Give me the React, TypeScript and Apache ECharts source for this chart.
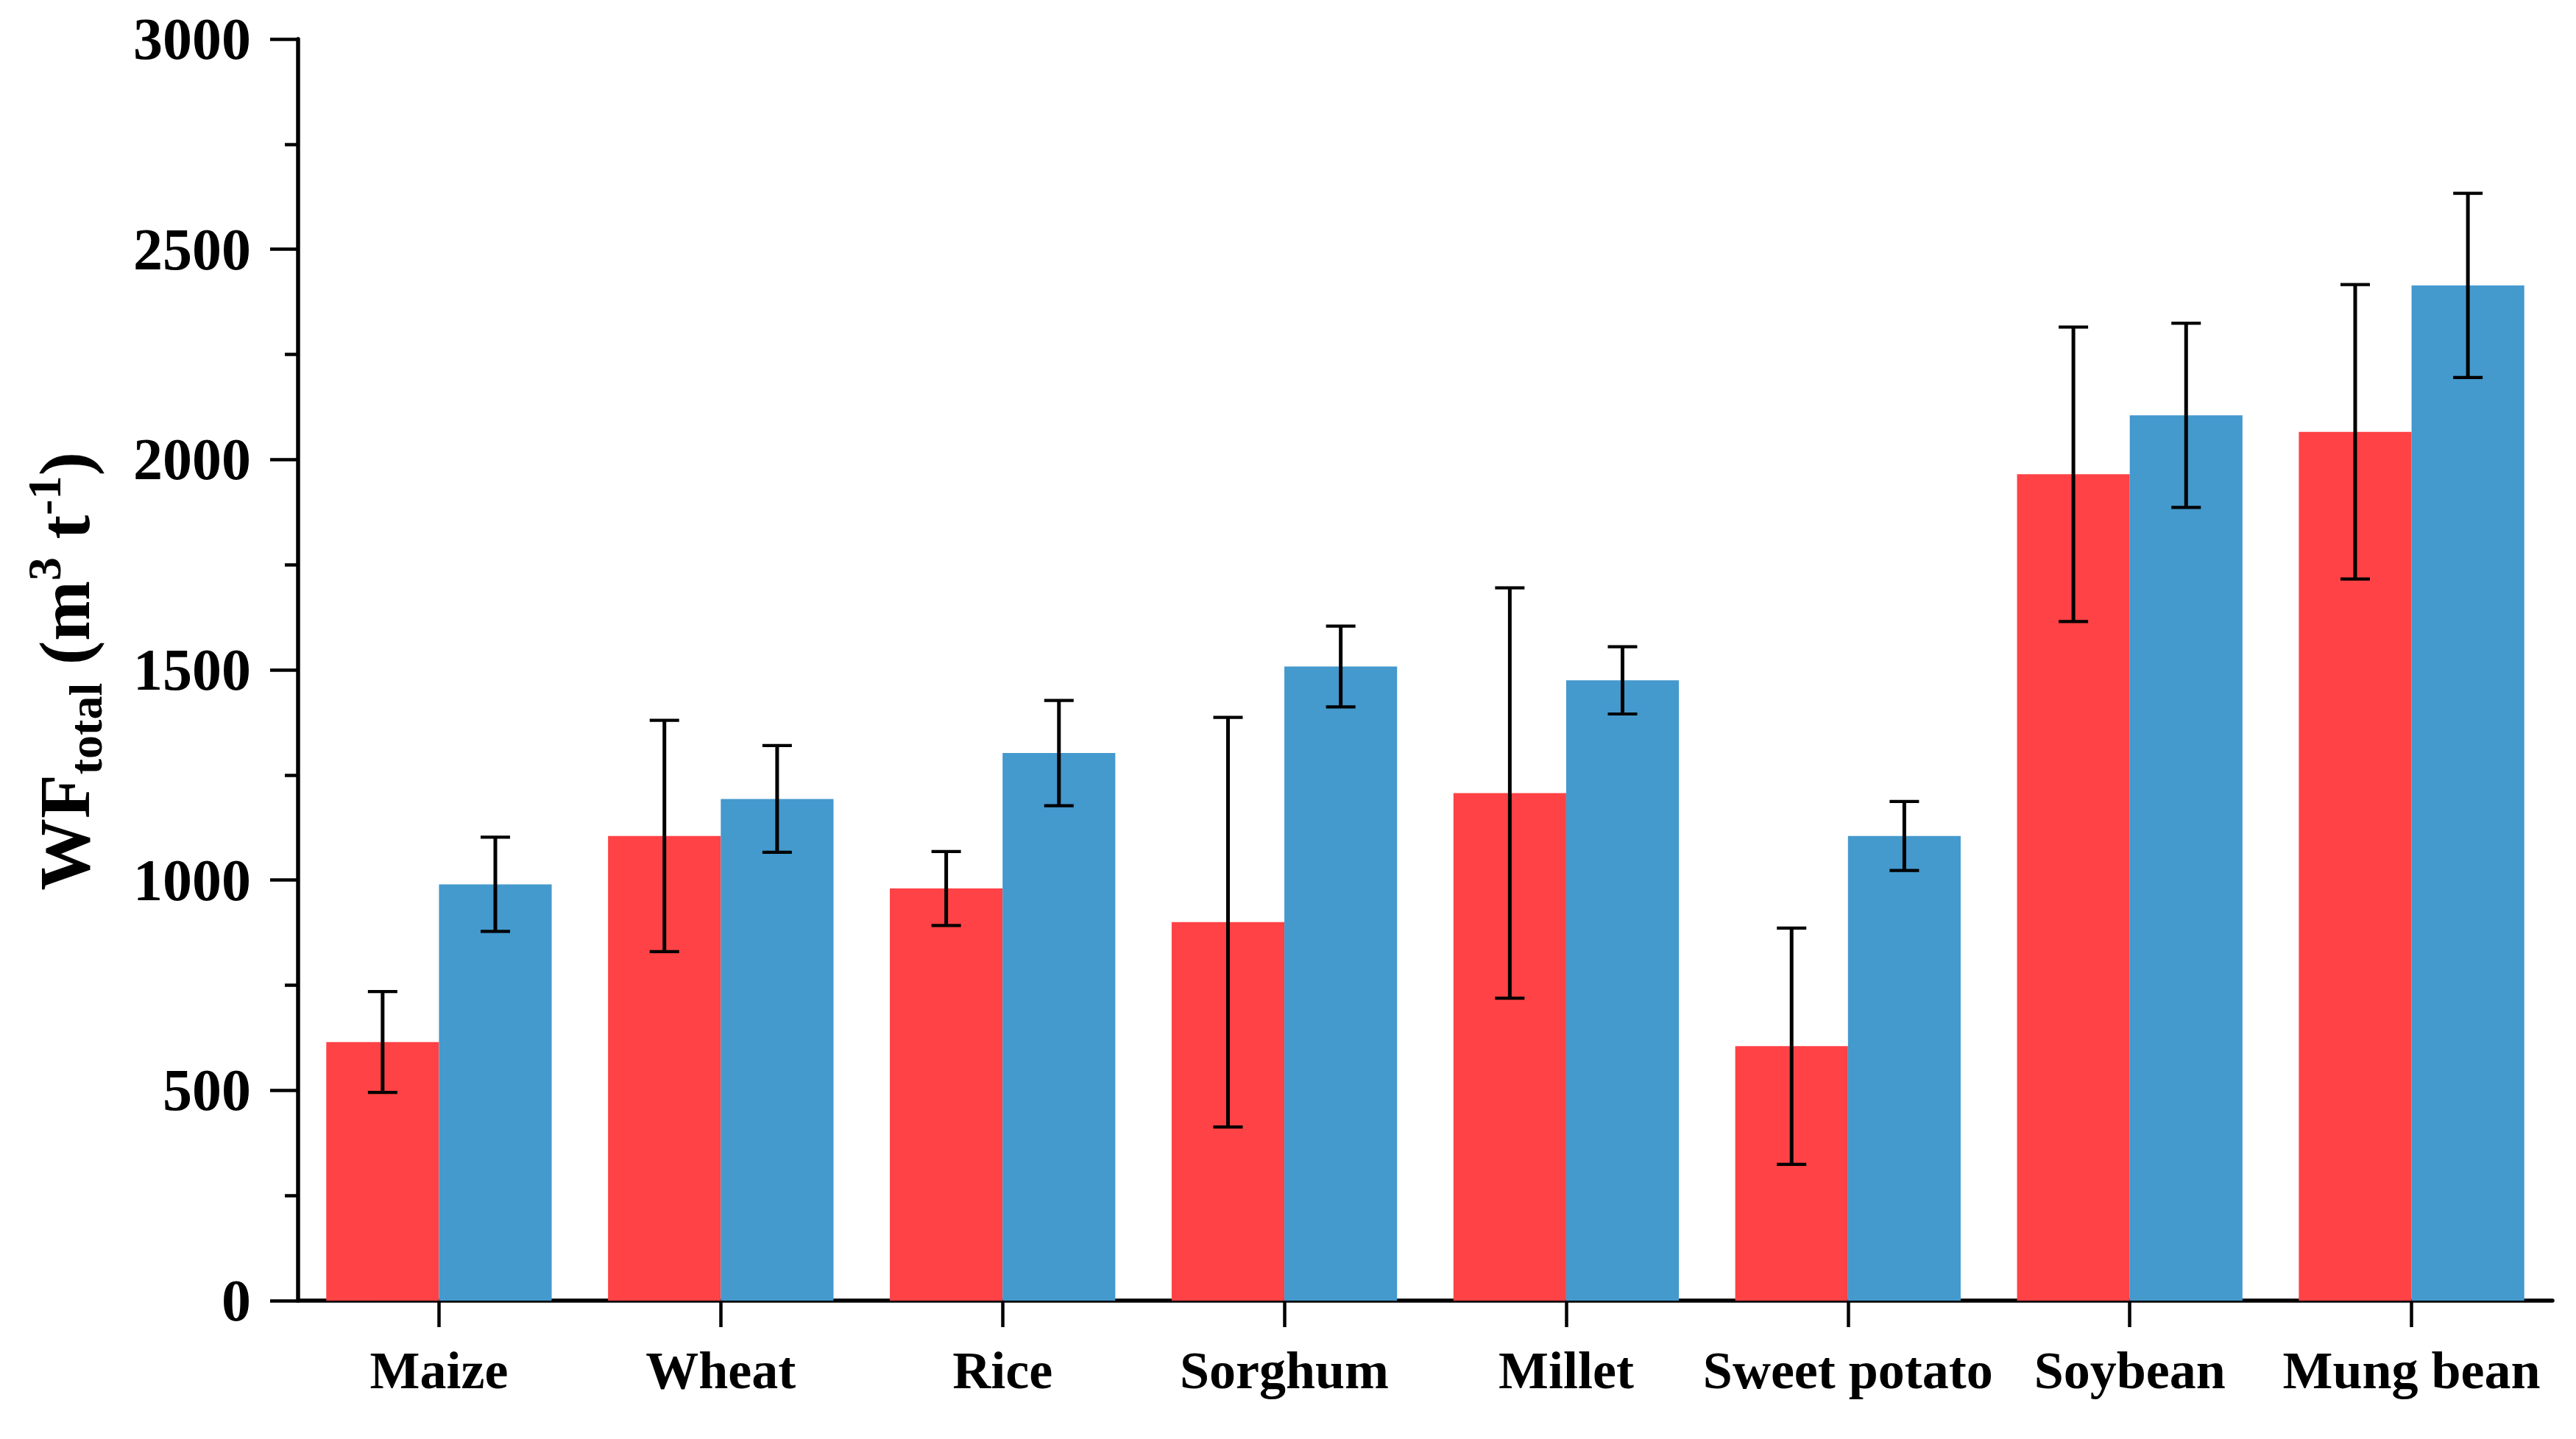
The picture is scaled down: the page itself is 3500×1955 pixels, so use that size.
import React, { useEffect, useRef } from "react";
import * as echarts from "echarts";

const categories = ["Maize", "Wheat", "Rice", "Sorghum", "Millet", "Sweet potato", "Soybean", "Mung bean"];
const redValues = [615, 1105, 980, 900, 1207, 605, 1965, 2066];
const redErrors = [120, 275, 88, 487, 488, 281, 350, 350];
const blueValues = [990, 1193, 1302, 1508, 1475, 1105, 2105, 2414];
const blueErrors = [112, 127, 125, 96, 80, 82, 219, 219];
const yTicks = { min: 0, max: 3000, interval: 500 };

const RED = "#FF4245";
const BLUE = "#4499CD";
const FONT = "'Liberation Serif', 'Times New Roman', serif";

function errorData(values: number[], errors: number[]) {
  return values.map((v, i) => [i, v - errors[i], v + errors[i]]);
}

function makeErrorSeries(values: number[], errors: number[], offset: number) {
  return {
    type: "custom",
    z: 10,
    silent: true,
    encode: { x: 0, y: [1, 2] },
    data: errorData(values, errors),
    renderItem: (params: any, api: any) => {
      const idx = api.value(0);
      const lo = api.value(1);
      const hi = api.value(2);
      const band = api.size([1, 0])[0];
      const pLo = api.coord([idx, lo]);
      const pHi = api.coord([idx, hi]);
      const x = pLo[0] + offset * band;
      const hw = 20;
      const stem = { stroke: "#000", lineWidth: 5 };
      const cap = { stroke: "#000", lineWidth: 4.2 };
      return {
        type: "group",
        children: [
          { type: "line", shape: { x1: x, y1: pHi[1], x2: x, y2: pLo[1] }, style: stem },
          { type: "line", shape: { x1: x - hw, y1: pHi[1], x2: x + hw, y2: pHi[1] }, style: cap },
          { type: "line", shape: { x1: x - hw, y1: pLo[1], x2: x + hw, y2: pLo[1] }, style: cap },
        ],
      };
    },
  };
}

export default function App() {
  const ref = useRef<HTMLDivElement>(null);
  useEffect(() => {
    if (!ref.current) return;
    const chart = echarts.init(ref.current, undefined, { renderer: "svg" });
    chart.setOption({
      animation: false,
      backgroundColor: "#fff",
      grid: { left: 405, right: 32, top: 53, bottom: 188, containLabel: false },
      xAxis: {
        type: "category",
        data: categories,
        boundaryGap: true,
        axisLine: { show: true, lineStyle: { color: "#000", width: 5.5 } },
        axisTick: { show: true, alignWithLabel: true, length: 36, lineStyle: { color: "#000", width: 4.5 } },
        axisLabel: {
          color: "#000",
          fontFamily: FONT,
          fontWeight: "bold",
          fontSize: 72,
          margin: 59,
          interval: 0,
        },
        splitLine: { show: false },
      },
      yAxis: {
        type: "value",
        min: yTicks.min,
        max: yTicks.max,
        interval: yTicks.interval,
        axisLine: { show: true, lineStyle: { color: "#000", width: 5.5 } },
        axisTick: { show: true, length: 38, lineStyle: { color: "#000", width: 4.5 } },
        minorTick: { show: true, splitNumber: 2, length: 18, lineStyle: { color: "#000", width: 4.5 } },
        axisLabel: {
          color: "#000",
          fontFamily: FONT,
          fontWeight: "bold",
          fontSize: 80,
          margin: 64,
          formatter: (v: number) => String(v),
        },
        splitLine: { show: false },
        minorSplitLine: { show: false },
      },
      graphic: [
        {
          type: "text",
          x: 88,
          y: 912,
          rotation: Math.PI / 2,
          style: {
            text: "{a|WF}{sub|total}{a| (m}{sup|3}{a| t}{sup|-1}{a|)}",
            align: "center",
            verticalAlign: "middle",
            fill: "#000",
            rich: {
              a: { fontFamily: FONT, fontWeight: "bold", fontSize: 98, lineHeight: 120, verticalAlign: "middle", fill: "#000" },
              sub: { fontFamily: FONT, fontWeight: "bold", fontSize: 64, lineHeight: 60, verticalAlign: "bottom", fill: "#000" },
              sup: { fontFamily: FONT, fontWeight: "bold", fontSize: 64, lineHeight: 60, verticalAlign: "top", fill: "#000" },
            },
          },
        },
      ],
      series: [
        {
          type: "bar",
          data: redValues,
          barGap: "0%",
          barCategoryGap: "20%",
          itemStyle: { color: RED },
        },
        {
          type: "bar",
          data: blueValues,
          barGap: "0%",
          barCategoryGap: "20%",
          itemStyle: { color: BLUE },
        },
        makeErrorSeries(redValues, redErrors, -0.2),
        makeErrorSeries(blueValues, blueErrors, 0.2),
      ],
    });
    return () => chart.dispose();
  }, []);
  return (
    <div
      ref={ref}
      style={{ position: "absolute", left: 0, top: 0, width: 3500, height: 1955, background: "#fff" }}
    />
  );
}
